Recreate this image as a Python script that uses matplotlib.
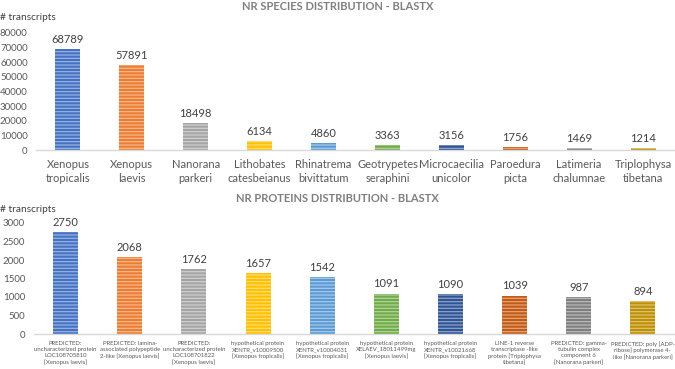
import matplotlib
matplotlib.use("Agg")
import matplotlib.pyplot as plt
import matplotlib.colors as mcolors
import numpy as np

species = ["Xenopus\ntropicalis", "Xenopus\nlaevis", "Nanorana\nparkeri", "Lithobates\ncatesbeianus",
           "Rhinatrema\nbivittatum", "Geotrypetes\nseraphini", "Microcaecilia\nunicolor",
           "Paroedura\npicta", "Latimeria\nchalumnae", "Triplophysa\ntibetana"]
species_counts = [68789, 57891, 18498, 6134, 4860, 3363, 3156, 1756, 1469, 1214]

proteins = ["PREDICTED:\nuncharacterized protein\nLOC108705810\n[Xenopus laevis]",
            "PREDICTED: lamina-\nassociated polypeptide\n2-like [Xenopus laevis]",
            "PREDICTED:\nuncharacterized protein\nLOC108701822\n[Xenopus laevis]",
            "hypothetical protein\nXENTR_v10009500\n[Xenopus tropicalis]",
            "hypothetical protein\nXENTR_v10004031\n[Xenopus tropicalis]",
            "hypothetical protein\nXELAEV_18011499mg\n[Xenopus laevis]",
            "hypothetical protein\nXENTR_v10021668\n[Xenopus tropicalis]",
            "LINE-1 reverse\ntranscriptase -like\nprotein [Triplophysa\ntibetana]",
            "PREDICTED: gamma-\ntubulin complex\ncomponent 6\n[Nanorana parkeri]",
            "PREDICTED: poly [ADP-\nribose] polymerase 4-\nlike [Nanorana parkeri]"]
protein_counts = [2750, 2068, 1762, 1657, 1542, 1091, 1090, 1039, 987, 894]

bar_colors = ["#4472C4", "#ED7D31", "#A5A5A5", "#FFC000", "#5B9BD5",
              "#70AD47", "#2F5597", "#C55A11", "#7F7F7F", "#BF9000"]

plt.rcParams['font.family'] = ['Lato', 'DejaVu Sans']
plt.rcParams['hatch.linewidth'] = 0.9

W, H = 675, 369
fig = plt.figure(figsize=(W / 100, H / 100), dpi=100)
fig.patch.set_facecolor("white")

def lighten(c, f=0.45):
    r, g, b = mcolors.to_rgb(c)
    return (r + (1 - r) * f, g + (1 - g) * f, b + (1 - b) * f)

def draw(ax, labels, values, ymax, ystep, label_size, xpad, lsp, title, title_y, ylabel_y):
    x = np.arange(len(values))
    for i, v in enumerate(values):
        ax.bar(x[i], v, width=0.39, color=bar_colors[i], edgecolor=lighten(bar_colors[i]),
               linewidth=0, hatch="-----")
    for i, v in enumerate(values):
        ax.annotate(str(v), (x[i], v), xytext=(0, 3), textcoords="offset points",
                    ha="center", va="bottom", fontsize=8, color="#404040")
    ax.set_xlim(-0.5, len(values) - 0.5)
    ax.set_ylim(0, ymax)
    ax.set_yticks(np.arange(0, ymax + 1, ystep))
    ax.set_xticks(x)
    ax.set_xticklabels(labels, fontsize=label_size, color="#595959", linespacing=lsp)
    ax.tick_params(axis="y", length=0, labelsize=7, labelcolor="#595959", pad=6)
    ax.tick_params(axis="x", length=0, pad=xpad)
    for s in ["top", "right", "left"]:
        ax.spines[s].set_visible(False)
    ax.spines["bottom"].set_color("#D9D9D9")
    ax.spines["bottom"].set_linewidth(1.0)
    fig.text(0.5, title_y, title, ha="center", va="center", fontsize=8,
             fontweight="bold", color="#7F7F7F")
    fig.text(0.0, ylabel_y, "# transcripts", ha="left", va="center", fontsize=7.3, color="#404040")

ax1 = fig.add_axes([36 / W, 1 - 150 / H, 639 / W, 117 / H])
draw(ax1, species, species_counts, 80000, 10000, 8, 6.5, 1.35, "NR SPECIES DISTRIBUTION - BLASTX",
     1 - 7 / H, 1 - 17 / H)

ax2 = fig.add_axes([33.5 / W, 1 - 334 / H, 641.5 / W, 111 / H])
draw(ax2, proteins, protein_counts, 3000, 500, 4.3, 5, 1.25, "NR PROTEINS DISTRIBUTION - BLASTX",
     1 - 198 / H, 1 - 209 / H)

fig.savefig("out.png", dpi=100, facecolor="white")
